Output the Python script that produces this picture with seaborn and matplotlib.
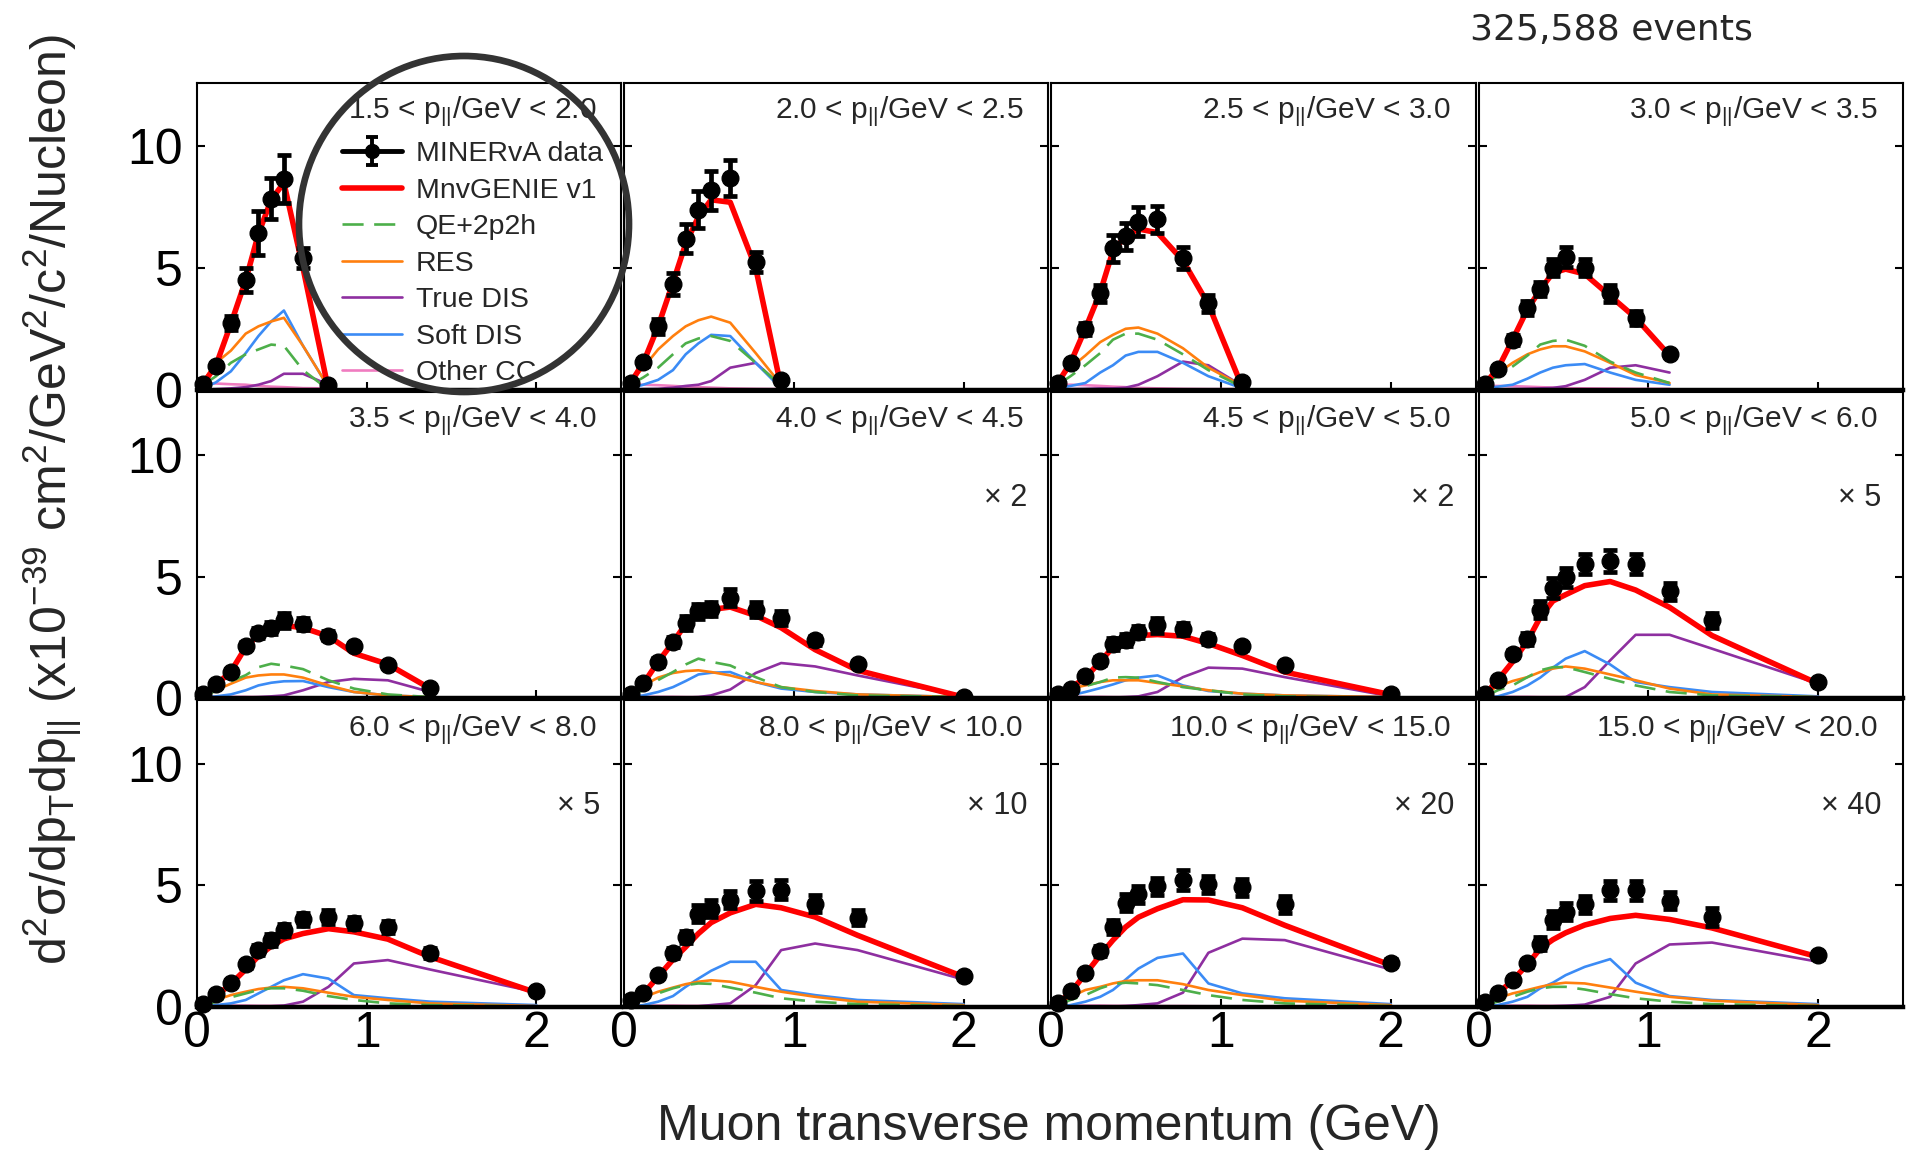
import numpy as np
import pandas as pd
import seaborn as sns
import matplotlib.pyplot as plt
from matplotlib.lines import Line2D
from matplotlib.patches import Ellipse

# --- data ---
pt_centers = [0.0375, 0.1125, 0.2, 0.2875, 0.3625, 0.4375, 0.5125, 0.625, 0.775, 0.925, 1.125, 1.375, 2.0]
pz_edges = ["1.5", "2.0", "2.5", "3.0", "3.5", "4.0", "4.5", "5.0", "6.0", "8.0", "10.0", "15.0", "20.0"]
scale_factors = [None, None, None, None, None, 2, 2, 5, 5, 10, 20, 40]

data_xsec = [
    [0.25, 0.98, 2.73, 4.5, 6.42, 7.85, 8.65, 5.4, 0.2],
    [0.27, 1.12, 2.6, 4.33, 6.2, 7.4, 8.2, 8.7, 5.25, 0.38],
    [0.27, 1.1, 2.5, 3.96, 5.8, 6.3, 6.9, 7.0, 5.4, 3.55, 0.3],
    [0.25, 0.85, 2.05, 3.35, 4.13, 5.0, 5.45, 5.0, 3.95, 2.95, 1.48],
    [0.16, 0.6, 1.08, 2.16, 2.68, 2.9, 3.2, 3.06, 2.58, 2.17, 1.35, 0.42],
    [0.16, 0.63, 1.49, 2.31, 3.09, 3.57, 3.67, 4.13, 3.65, 3.3, 2.38, 1.42, 0.05],
    [0.16, 0.4, 0.9, 1.53, 2.24, 2.38, 2.72, 3.0, 2.86, 2.45, 2.14, 1.35, 0.19],
    [0.16, 0.74, 1.83, 2.45, 3.65, 4.54, 4.97, 5.52, 5.63, 5.52, 4.39, 3.2, 0.67],
    [0.12, 0.53, 1.0, 1.76, 2.34, 2.75, 3.16, 3.6, 3.7, 3.46, 3.29, 2.23, 0.67],
    [0.29, 0.56, 1.31, 2.23, 2.88, 3.84, 4.04, 4.41, 4.77, 4.82, 4.25, 3.67, 1.27],
    [0.18, 0.67, 1.41, 2.31, 3.29, 4.28, 4.63, 4.96, 5.23, 5.04, 4.93, 4.22, 1.82],
    [0.22, 0.56, 1.11, 1.79, 2.61, 3.59, 3.91, 4.22, 4.8, 4.8, 4.36, 3.7, 2.12],
]
data_err = [
    [0.05, 0.1, 0.3, 0.5, 0.9, 0.85, 1.0, 0.4, 0.05],
    [0.05, 0.15, 0.3, 0.45, 0.6, 0.75, 0.8, 0.75, 0.4, 0.05],
    [0.05, 0.12, 0.25, 0.35, 0.55, 0.55, 0.6, 0.55, 0.45, 0.35, 0.05],
    [0.05, 0.1, 0.2, 0.3, 0.3, 0.35, 0.4, 0.35, 0.35, 0.3, 0.08],
    [0.03, 0.08, 0.12, 0.15, 0.2, 0.25, 0.3, 0.25, 0.2, 0.12, 0.08, 0.05],
    [0.03, 0.08, 0.15, 0.2, 0.3, 0.3, 0.3, 0.35, 0.3, 0.3, 0.2, 0.12, 0.02],
    [0.03, 0.06, 0.1, 0.15, 0.25, 0.25, 0.25, 0.3, 0.25, 0.2, 0.15, 0.12, 0.03],
    [0.03, 0.1, 0.15, 0.25, 0.35, 0.4, 0.4, 0.4, 0.45, 0.4, 0.35, 0.3, 0.1],
    [0.02, 0.06, 0.1, 0.15, 0.2, 0.25, 0.25, 0.25, 0.3, 0.25, 0.25, 0.2, 0.08],
    [0.03, 0.06, 0.12, 0.2, 0.25, 0.35, 0.35, 0.35, 0.4, 0.4, 0.35, 0.3, 0.12],
    [0.03, 0.08, 0.12, 0.2, 0.3, 0.35, 0.35, 0.35, 0.4, 0.35, 0.35, 0.35, 0.15],
    [0.03, 0.06, 0.1, 0.15, 0.25, 0.35, 0.35, 0.35, 0.4, 0.4, 0.35, 0.35, 0.15],
]
mnv_genie = [
    [0.25, 1.0, 2.7, 4.5, 6.4, 7.8, 8.5, 5.0, 0.0],
    [0.27, 1.1, 2.6, 4.4, 6.0, 7.1, 7.8, 7.7, 5.0, 0.1],
    [0.27, 1.1, 2.5, 4.0, 5.7, 6.3, 6.6, 6.45, 5.3, 3.5, 0.1],
    [0.25, 0.85, 2.05, 3.3, 4.1, 4.8, 4.95, 4.75, 3.85, 2.95, 1.4],
    [0.15, 0.55, 1.1, 2.1, 2.6, 2.85, 3.0, 2.9, 2.55, 1.85, 1.4, 0.4],
    [0.15, 0.6, 1.5, 2.3, 3.05, 3.45, 3.65, 3.75, 3.4, 2.9, 2.0, 1.15, 0.05],
    [0.16, 0.42, 0.85, 1.5, 2.1, 2.4, 2.58, 2.62, 2.55, 2.25, 1.76, 1.08, 0.15],
    [0.16, 0.75, 1.5, 2.35, 3.33, 4.0, 4.26, 4.63, 4.8, 4.45, 3.74, 2.58, 0.6],
    [0.12, 0.45, 0.95, 1.55, 2.09, 2.5, 2.8, 3.02, 3.22, 3.09, 2.79, 2.06, 0.59],
    [0.25, 0.55, 1.25, 1.95, 2.47, 3.02, 3.47, 3.87, 4.22, 4.08, 3.7, 2.95, 1.24],
    [0.15, 0.6, 1.35, 2.13, 2.75, 3.29, 3.69, 4.04, 4.41, 4.4, 4.08, 3.36, 1.72],
    [0.2, 0.55, 1.1, 1.75, 2.4, 2.77, 3.05, 3.37, 3.64, 3.77, 3.6, 3.25, 2.06],
]
qe_2p2h = [
    [0.2, 0.55, 1.1, 1.45, 1.65, 1.85, 1.8, 0.8, 0.0],
    [0.2, 0.5, 0.9, 1.45, 1.9, 2.1, 2.2, 2.0, 1.1, 0.15],
    [0.2, 0.55, 1.0, 1.5, 2.05, 2.3, 2.3, 2.05, 1.45, 0.8, 0.1],
    [0.27, 0.55, 0.95, 1.4, 1.85, 2.0, 2.05, 1.8, 1.15, 0.7, 0.27],
    [0.1, 0.3, 0.7, 0.95, 1.28, 1.42, 1.35, 1.2, 0.74, 0.4, 0.16, 0.05],
    [0.12, 0.33, 0.75, 1.08, 1.39, 1.63, 1.5, 1.35, 0.87, 0.46, 0.26, 0.12, 0.05],
    [0.1, 0.33, 0.5, 0.67, 0.85, 0.87, 0.85, 0.67, 0.46, 0.33, 0.16, 0.08, 0.02],
    [0.08, 0.33, 0.53, 0.87, 1.15, 1.28, 1.28, 1.08, 0.8, 0.53, 0.26, 0.12, 0.05],
    [0.04, 0.22, 0.4, 0.56, 0.7, 0.77, 0.77, 0.67, 0.45, 0.29, 0.15, 0.08, 0.02],
    [0.12, 0.29, 0.56, 0.77, 0.9, 0.97, 0.95, 0.8, 0.59, 0.36, 0.22, 0.12, 0.04],
    [0.08, 0.29, 0.49, 0.77, 0.94, 1.0, 0.97, 0.9, 0.7, 0.49, 0.29, 0.15, 0.04],
    [0.08, 0.22, 0.42, 0.63, 0.77, 0.83, 0.83, 0.72, 0.53, 0.36, 0.22, 0.12, 0.04],
]
res = [
    [0.35, 1.1, 1.6, 2.3, 2.6, 2.8, 2.95, 1.8, 0.1],
    [0.35, 0.9, 1.65, 2.2, 2.6, 2.85, 3.0, 2.75, 1.5, 0.2],
    [0.35, 0.9, 1.4, 1.95, 2.25, 2.5, 2.55, 2.3, 1.7, 0.9, 0.15],
    [0.27, 0.68, 1.1, 1.45, 1.65, 1.78, 1.78, 1.57, 1.1, 0.6, 0.27],
    [0.08, 0.33, 0.6, 0.85, 0.94, 0.98, 0.98, 0.85, 0.53, 0.26, 0.12, 0.05],
    [0.19, 0.53, 0.85, 1.04, 1.12, 1.15, 1.08, 0.94, 0.67, 0.46, 0.3, 0.16, 0.05],
    [0.19, 0.4, 0.53, 0.67, 0.74, 0.74, 0.74, 0.63, 0.49, 0.33, 0.19, 0.12, 0.05],
    [0.19, 0.49, 0.71, 0.87, 1.08, 1.22, 1.31, 1.22, 0.98, 0.74, 0.4, 0.16, 0.05],
    [0.08, 0.29, 0.49, 0.63, 0.74, 0.8, 0.83, 0.77, 0.59, 0.42, 0.29, 0.15, 0.04],
    [0.15, 0.4, 0.63, 0.8, 0.94, 1.04, 1.1, 1.04, 0.83, 0.63, 0.42, 0.22, 0.08],
    [0.12, 0.42, 0.7, 0.83, 0.97, 1.07, 1.1, 1.1, 0.94, 0.7, 0.49, 0.26, 0.08],
    [0.12, 0.36, 0.56, 0.7, 0.83, 0.94, 1.0, 0.97, 0.8, 0.63, 0.42, 0.26, 0.08],
]
soft_dis = [
    [0.05, 0.3, 0.75, 1.5, 2.2, 2.8, 3.25, 1.8, 0.1],
    [0.05, 0.2, 0.4, 0.8, 1.45, 1.9, 2.25, 2.2, 1.1, 0.05],
    [0.05, 0.15, 0.27, 0.7, 1.0, 1.4, 1.55, 1.55, 1.1, 0.55, 0.05],
    [0.05, 0.12, 0.2, 0.45, 0.7, 0.9, 1.0, 1.05, 0.7, 0.4, 0.2],
    [0.03, 0.08, 0.16, 0.33, 0.53, 0.64, 0.7, 0.71, 0.46, 0.26, 0.12, 0.05],
    [0.05, 0.12, 0.26, 0.46, 0.71, 0.98, 1.05, 1.08, 0.67, 0.4, 0.26, 0.16, 0.05],
    [0.03, 0.12, 0.26, 0.42, 0.57, 0.74, 0.85, 0.94, 0.53, 0.3, 0.19, 0.12, 0.05],
    [0.03, 0.08, 0.26, 0.53, 0.85, 1.26, 1.63, 1.94, 1.39, 0.67, 0.46, 0.26, 0.08],
    [0.02, 0.08, 0.15, 0.29, 0.56, 0.83, 1.1, 1.35, 1.17, 0.49, 0.36, 0.22, 0.08],
    [0.02, 0.08, 0.22, 0.45, 0.83, 1.17, 1.49, 1.86, 1.86, 0.7, 0.49, 0.29, 0.12],
    [0.02, 0.08, 0.22, 0.42, 0.7, 1.13, 1.58, 2.02, 2.2, 0.97, 0.56, 0.36, 0.12],
    [0.02, 0.08, 0.22, 0.42, 0.77, 1.0, 1.31, 1.65, 1.97, 1.0, 0.45, 0.29, 0.12],
]
true_dis = [
    [0.0, 0.02, 0.05, 0.1, 0.2, 0.35, 0.65, 0.65, 0.2],
    [0.0, 0.02, 0.03, 0.08, 0.15, 0.2, 0.35, 0.9, 1.1, 0.15],
    [0.0, 0.02, 0.03, 0.05, 0.05, 0.08, 0.2, 0.55, 1.15, 1.0, 0.15],
    [0.0, 0.01, 0.02, 0.03, 0.05, 0.07, 0.14, 0.4, 0.9, 1.0, 0.7],
    [0.0, 0.01, 0.02, 0.03, 0.05, 0.08, 0.12, 0.33, 0.67, 0.8, 0.74, 0.26],
    [0.0, 0.01, 0.01, 0.02, 0.03, 0.05, 0.12, 0.36, 1.04, 1.45, 1.31, 0.94, 0.08],
    [0.0, 0.0, 0.01, 0.02, 0.03, 0.05, 0.08, 0.26, 0.87, 1.26, 1.22, 0.87, 0.08],
    [0.0, 0.0, 0.01, 0.01, 0.02, 0.03, 0.05, 0.46, 1.56, 2.61, 2.61, 2.04, 0.6],
    [0.0, 0.0, 0.0, 0.01, 0.02, 0.03, 0.06, 0.22, 0.83, 1.79, 1.93, 1.54, 0.61],
    [0.0, 0.0, 0.0, 0.01, 0.02, 0.03, 0.08, 0.15, 0.9, 2.34, 2.61, 2.34, 1.13],
    [0.0, 0.0, 0.0, 0.01, 0.02, 0.04, 0.08, 0.15, 0.59, 2.23, 2.81, 2.75, 1.54],
    [0.0, 0.0, 0.0, 0.01, 0.02, 0.03, 0.05, 0.1, 0.42, 1.79, 2.57, 2.65, 1.86],
]
other_cc = [
    [0.25, 0.25, 0.22, 0.2, 0.15, 0.12, 0.1, 0.06, 0.05],
    [0.2, 0.2, 0.18, 0.15, 0.12, 0.1, 0.08, 0.05, 0.03, 0.02],
    [0.2, 0.2, 0.18, 0.15, 0.12, 0.1, 0.07, 0.05, 0.03, 0.02, 0.02],
    [0.15, 0.15, 0.14, 0.12, 0.1, 0.08, 0.06, 0.05, 0.04, 0.03, 0.03],
    [0.06, 0.06, 0.06, 0.06, 0.05, 0.05, 0.05, 0.04, 0.04, 0.03, 0.03, 0.03],
    [0.06, 0.06, 0.06, 0.06, 0.05, 0.05, 0.05, 0.04, 0.04, 0.03, 0.03, 0.03, 0.02],
    [0.06, 0.06, 0.06, 0.06, 0.05, 0.05, 0.05, 0.04, 0.04, 0.03, 0.03, 0.03, 0.02],
    [0.06, 0.06, 0.06, 0.06, 0.05, 0.05, 0.05, 0.04, 0.04, 0.03, 0.03, 0.03, 0.02],
    [0.06, 0.06, 0.06, 0.06, 0.05, 0.05, 0.05, 0.04, 0.04, 0.03, 0.03, 0.03, 0.02],
    [0.06, 0.06, 0.06, 0.06, 0.05, 0.05, 0.05, 0.04, 0.04, 0.03, 0.03, 0.03, 0.02],
    [0.06, 0.06, 0.06, 0.06, 0.05, 0.05, 0.05, 0.04, 0.04, 0.03, 0.03, 0.03, 0.02],
    [0.06, 0.06, 0.06, 0.06, 0.05, 0.05, 0.05, 0.04, 0.04, 0.03, 0.03, 0.03, 0.02],
]

# drawing order: components first, full model on top
comp_names = ['Other CC', 'True DIS', 'Soft DIS', 'RES', 'QE+2p2h', 'MnvGENIE v1']
comp_vals = [other_cc, true_dis, soft_dis, res, qe_2p2h, mnv_genie]
palette = {'MnvGENIE v1': '#ff0000', 'QE+2p2h': '#4daf4a', 'RES': '#ff7f0e',
           'True DIS': '#8e2fa0', 'Soft DIS': '#3b8bf5', 'Other CC': '#f07cc0'}
widths = {'MnvGENIE v1': 4.0, 'QE+2p2h': 1.9, 'RES': 1.9,
          'True DIS': 1.9, 'Soft DIS': 1.9, 'Other CC': 1.9}
dash_map = {n: '' for n in comp_names}
dash_map['QE+2p2h'] = (8, 4)

rows = []
for p in range(12):
    for name, vals in zip(comp_names, comp_vals):
        for x, v in zip(pt_centers, vals[p]):
            rows.append((p, name, x, v))
df = pd.DataFrame(rows, columns=['panel', 'component', 'pt', 'xsec'])

sns.set_style("ticks")
plt.rcParams['font.family'] = ['Liberation Sans', 'DejaVu Sans']
plt.rcParams['mathtext.default'] = 'regular'

fig, axes = plt.subplots(3, 4, figsize=(19.1, 11.53), dpi=100, sharex=True, sharey=True)
fig.subplots_adjust(left=0.1031, right=0.9963, top=0.928, bottom=0.1266,
                    wspace=0.007, hspace=0.007)

for p, ax in enumerate(axes.flat):
    sub = df[df['panel'] == p]
    sns.lineplot(data=sub, x='pt', y='xsec', hue='component', hue_order=comp_names,
                 style='component', style_order=comp_names, dashes=dash_map,
                 size='component', size_order=comp_names, sizes=widths,
                 palette=palette, estimator=None, sort=False, legend=False, ax=ax)
    n = len(data_xsec[p])
    ax.errorbar(pt_centers[:n], data_xsec[p], yerr=data_err[p], fmt='o', color='black',
                ms=12, elinewidth=3.4, capsize=5, capthick=3.4, zorder=6, clip_on=False)

    ax.set_xlim(0, 2.5)
    ax.set_ylim(0, 12.6)
    ax.set_xticks([0, 1, 2])
    ax.set_yticks([0, 5, 10])
    ax.set_xlabel('')
    ax.set_ylabel('')
    ax.tick_params(direction='in', length=6, width=1.5, right=True, top=False,
                   labelsize=36, colors='black')
    ax.tick_params(axis='x', pad=3)
    ax.tick_params(axis='y', pad=10)
    for side in ['top', 'left', 'right']:
        ax.spines[side].set_linewidth(1.5)
        ax.spines[side].set_color('black')
    ax.spines['bottom'].set_linewidth(3.2)
    ax.spines['bottom'].set_color('black')

    ax.text(0.941, 0.962, pz_edges[p] + r' < p$_{||}$/GeV < ' + pz_edges[p + 1],
            transform=ax.transAxes, ha='right', va='top', fontsize=21.5)
    if scale_factors[p] is not None:
        ax.text(0.95, 0.655, '\u00d7 ' + str(scale_factors[p]), transform=ax.transAxes,
                ha='right', va='center', fontsize=22)

# legend proxies
ax0 = axes[0, 0]
h_data = ax0.errorbar([np.nan], [np.nan], yerr=[0.5], fmt='-o', color='black', lw=3.5,
                      ms=10, elinewidth=2.8, capsize=4, capthick=2.8)
legend_names = ['MnvGENIE v1', 'QE+2p2h', 'RES', 'True DIS', 'Soft DIS', 'Other CC']
handles = [h_data]
for name in legend_names:
    ls = (0, (8, 4)) if name == 'QE+2p2h' else '-'
    handles.append(Line2D([0], [0], color=palette[name], lw=widths[name], ls=ls))
ax0.legend(handles, ['MINERvA data'] + legend_names, loc='upper left',
           bbox_to_anchor=(342 / 1910, 1 - 141 / 1153), bbox_transform=fig.transFigure,
           frameon=False, fontsize=20.5, handlelength=2.1, handletextpad=0.5,
           labelspacing=0.37, borderpad=0, borderaxespad=0)

# highlight circle around the legend
fig.add_artist(Ellipse((464 / 1910, 1 - 224 / 1153), 330 / 1910, 336 / 1153,
                       transform=fig.transFigure, fill=False, ec='#333333', lw=4.8))

fig.text(1049 / 1910, 1 - 1127 / 1153, 'Muon transverse momentum (GeV)',
         ha='center', va='center', fontsize=36)
fig.text(52 / 1910, 1 - 500 / 1153,
         r'd$^{2}$σ/dp$_{T}$dp$_{||}$ (x10$^{-39}$ cm$^{2}$/GeV$^{2}$/c$^{2}$/Nucleon)',
         ha='center', va='center', rotation=90, fontsize=36)
fig.text(1470 / 1910, 1 - 30 / 1153, '325,588 events', family='DejaVu Sans',
         ha='left', va='center', fontsize=26)

fig.savefig('out.png', dpi=100)
